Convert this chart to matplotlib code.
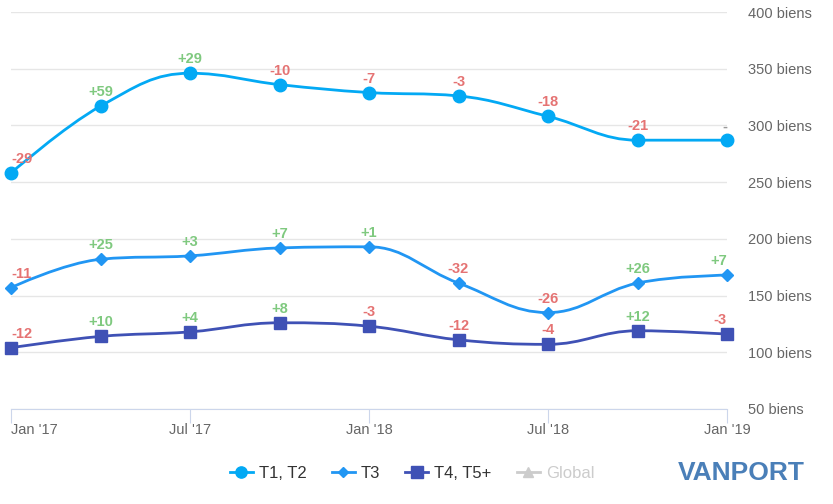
import numpy as np
import matplotlib
matplotlib.use('Agg')
import matplotlib.pyplot as plt
from matplotlib.path import Path
from matplotlib.patches import PathPatch
from matplotlib.lines import Line2D

plt.rcParams['font.family'] = ['Liberation Sans', 'DejaVu Sans']

# quarterly points, Jan '17 -> Jan '19
periods = ['Jan 17', 'Apr 17', 'Jul 17', 'Oct 17', 'Jan 18', 'Apr 18', 'Jul 18', 'Oct 18', 'Jan 19']
tick_idx = [0, 2, 4, 6, 8]
tick_labels = ["Jan '17", "Jul '17", "Jan '18", "Jul '18", "Jan '19"]

t1t2 = [258, 317, 346, 336, 329, 326, 308, 287, 287]
t1t2_lbl = ['-29', '+59', '+29', '-10', '-7', '-3', '-18', '-21', '-']
t3 = [157, 182, 185, 192, 193, 161, 135, 161, 168]
t3_lbl = ['-11', '+25', '+3', '+7', '+1', '-32', '-26', '+26', '+7']
t4t5 = [104, 114, 118, 126, 123, 111, 107, 119, 116]
t4t5_lbl = ['-12', '+10', '+4', '+8', '-3', '-12', '-4', '+12', '-3']

series = [
    ('T1, T2', t1t2, t1t2_lbl, '#03A9F4', 'o', 9),
    ('T3', t3, t3_lbl, '#2196F3', 'D', 6),
    ('T4, T5+', t4t5, t4t5_lbl, '#3F51B5', 's', 9),
]


def spline_path(xs, ys, smoothing=1.5):
    # highcharts-like spline control points
    n = len(xs)
    denom = smoothing + 1
    rc = [None] * n
    lc = [None] * n
    for i in range(1, n - 1):
        px, py = xs[i], ys[i]
        lx, ly = xs[i - 1], ys[i - 1]
        nx, ny = xs[i + 1], ys[i + 1]
        lcx = (smoothing * px + lx) / denom
        lcy = (smoothing * py + ly) / denom
        rcx = (smoothing * px + nx) / denom
        rcy = (smoothing * py + ny) / denom
        corr = 0
        if rcx != lcx:
            corr = (rcy - lcy) * (rcx - px) / (rcx - lcx) + py - rcy
        lcy += corr
        rcy += corr
        if lcy > ly and lcy > py:
            lcy = max(ly, py); rcy = 2 * py - lcy
        elif lcy < ly and lcy < py:
            lcy = min(ly, py); rcy = 2 * py - lcy
        if rcy > ny and rcy > py:
            rcy = max(ny, py); lcy = 2 * py - rcy
        elif rcy < ny and rcy < py:
            rcy = min(ny, py); lcy = 2 * py - rcy
        lc[i] = (lcx, lcy)
        rc[i] = (rcx, rcy)
    verts = [(xs[0], ys[0])]
    codes = [Path.MOVETO]
    for i in range(1, n):
        a = rc[i - 1] if rc[i - 1] else (xs[i - 1], ys[i - 1])
        b = lc[i] if lc[i] else (xs[i], ys[i])
        verts += [a, b, (xs[i], ys[i])]
        codes += [Path.CURVE4] * 3
    return Path(verts, codes)


W, H = 833, 504
fig = plt.figure(figsize=(W / 100, H / 100), dpi=100)
ax = fig.add_axes([11 / W, 95 / H, 716 / W, 397 / H])

x = np.arange(len(periods))
ax.set_xlim(0, len(periods) - 1)
ax.set_ylim(50, 400)

for name, vals, lbls, col, mk, ms in series:
    ax.add_patch(PathPatch(spline_path(x, vals), fill=False, edgecolor=col,
                           lw=2, clip_on=False, zorder=3))
    ax.plot(x, vals, linestyle='none', marker=mk, color=col, markersize=ms,
            clip_on=False, zorder=4)
    for i, (v, t) in enumerate(zip(vals, lbls)):
        if t.startswith('+'):
            c = '#7fc97f'
        elif t.startswith('-') and len(t) > 1:
            c = '#e57373'
        else:
            c = '#999999'
        ha = 'center'
        if i == 0:
            ha = 'left'
        elif i == len(vals) - 1:
            ha = 'right'
        ax.annotate(t, (x[i], v), xytext=(0, 5), textcoords='offset points',
                    ha=ha, va='bottom', color=c, fontsize=10.5,
                    fontweight='bold', zorder=5)

# axes styling
ax.set_yticks(np.arange(50, 401, 50))
ax.set_yticklabels(['%d biens' % v for v in range(50, 401, 50)])
ax.yaxis.tick_right()
ax.tick_params(axis='y', length=0, pad=15, labelsize=10.5, labelcolor='#666666')
ax.grid(axis='y', color='#e6e6e6', lw=1)
ax.set_axisbelow(True)
for s in ['top', 'left', 'right']:
    ax.spines[s].set_visible(False)
ax.spines['bottom'].set_color('#ccd6eb')

ax.set_xticks(tick_idx)
ax.set_xticklabels(tick_labels)
ax.tick_params(axis='x', length=10, color='#ccd6eb', labelsize=10.5,
               labelcolor='#666666', pad=0)
for lab in ax.get_xticklabels():
    if lab.get_text() == "Jan '17":
        lab.set_ha('left')

# legend
handles = [Line2D([], [], color=c, marker=m, markersize=ms * 0.9, lw=2)
           for _, _, _, c, m, ms in series]
handles.append(Line2D([], [], color='#cccccc', marker='^', markersize=7, lw=2))
leg = fig.legend(handles, [s[0] for s in series] + ['Global'], loc='center',
                 bbox_to_anchor=(412 / W, 31 / H), ncol=4, frameon=False,
                 fontsize=12, handlelength=1.4, columnspacing=1.5,
                 handletextpad=0.35)
for t in leg.get_texts():
    t.set_color('#333333')
leg.get_texts()[-1].set_color('#cccccc')

fig.text(805 / W, 31 / H, 'VANPORT', ha='right', va='center', fontsize=19,
         fontweight='bold', color='#4a7fb8')

fig.savefig('out.png', dpi=100)
